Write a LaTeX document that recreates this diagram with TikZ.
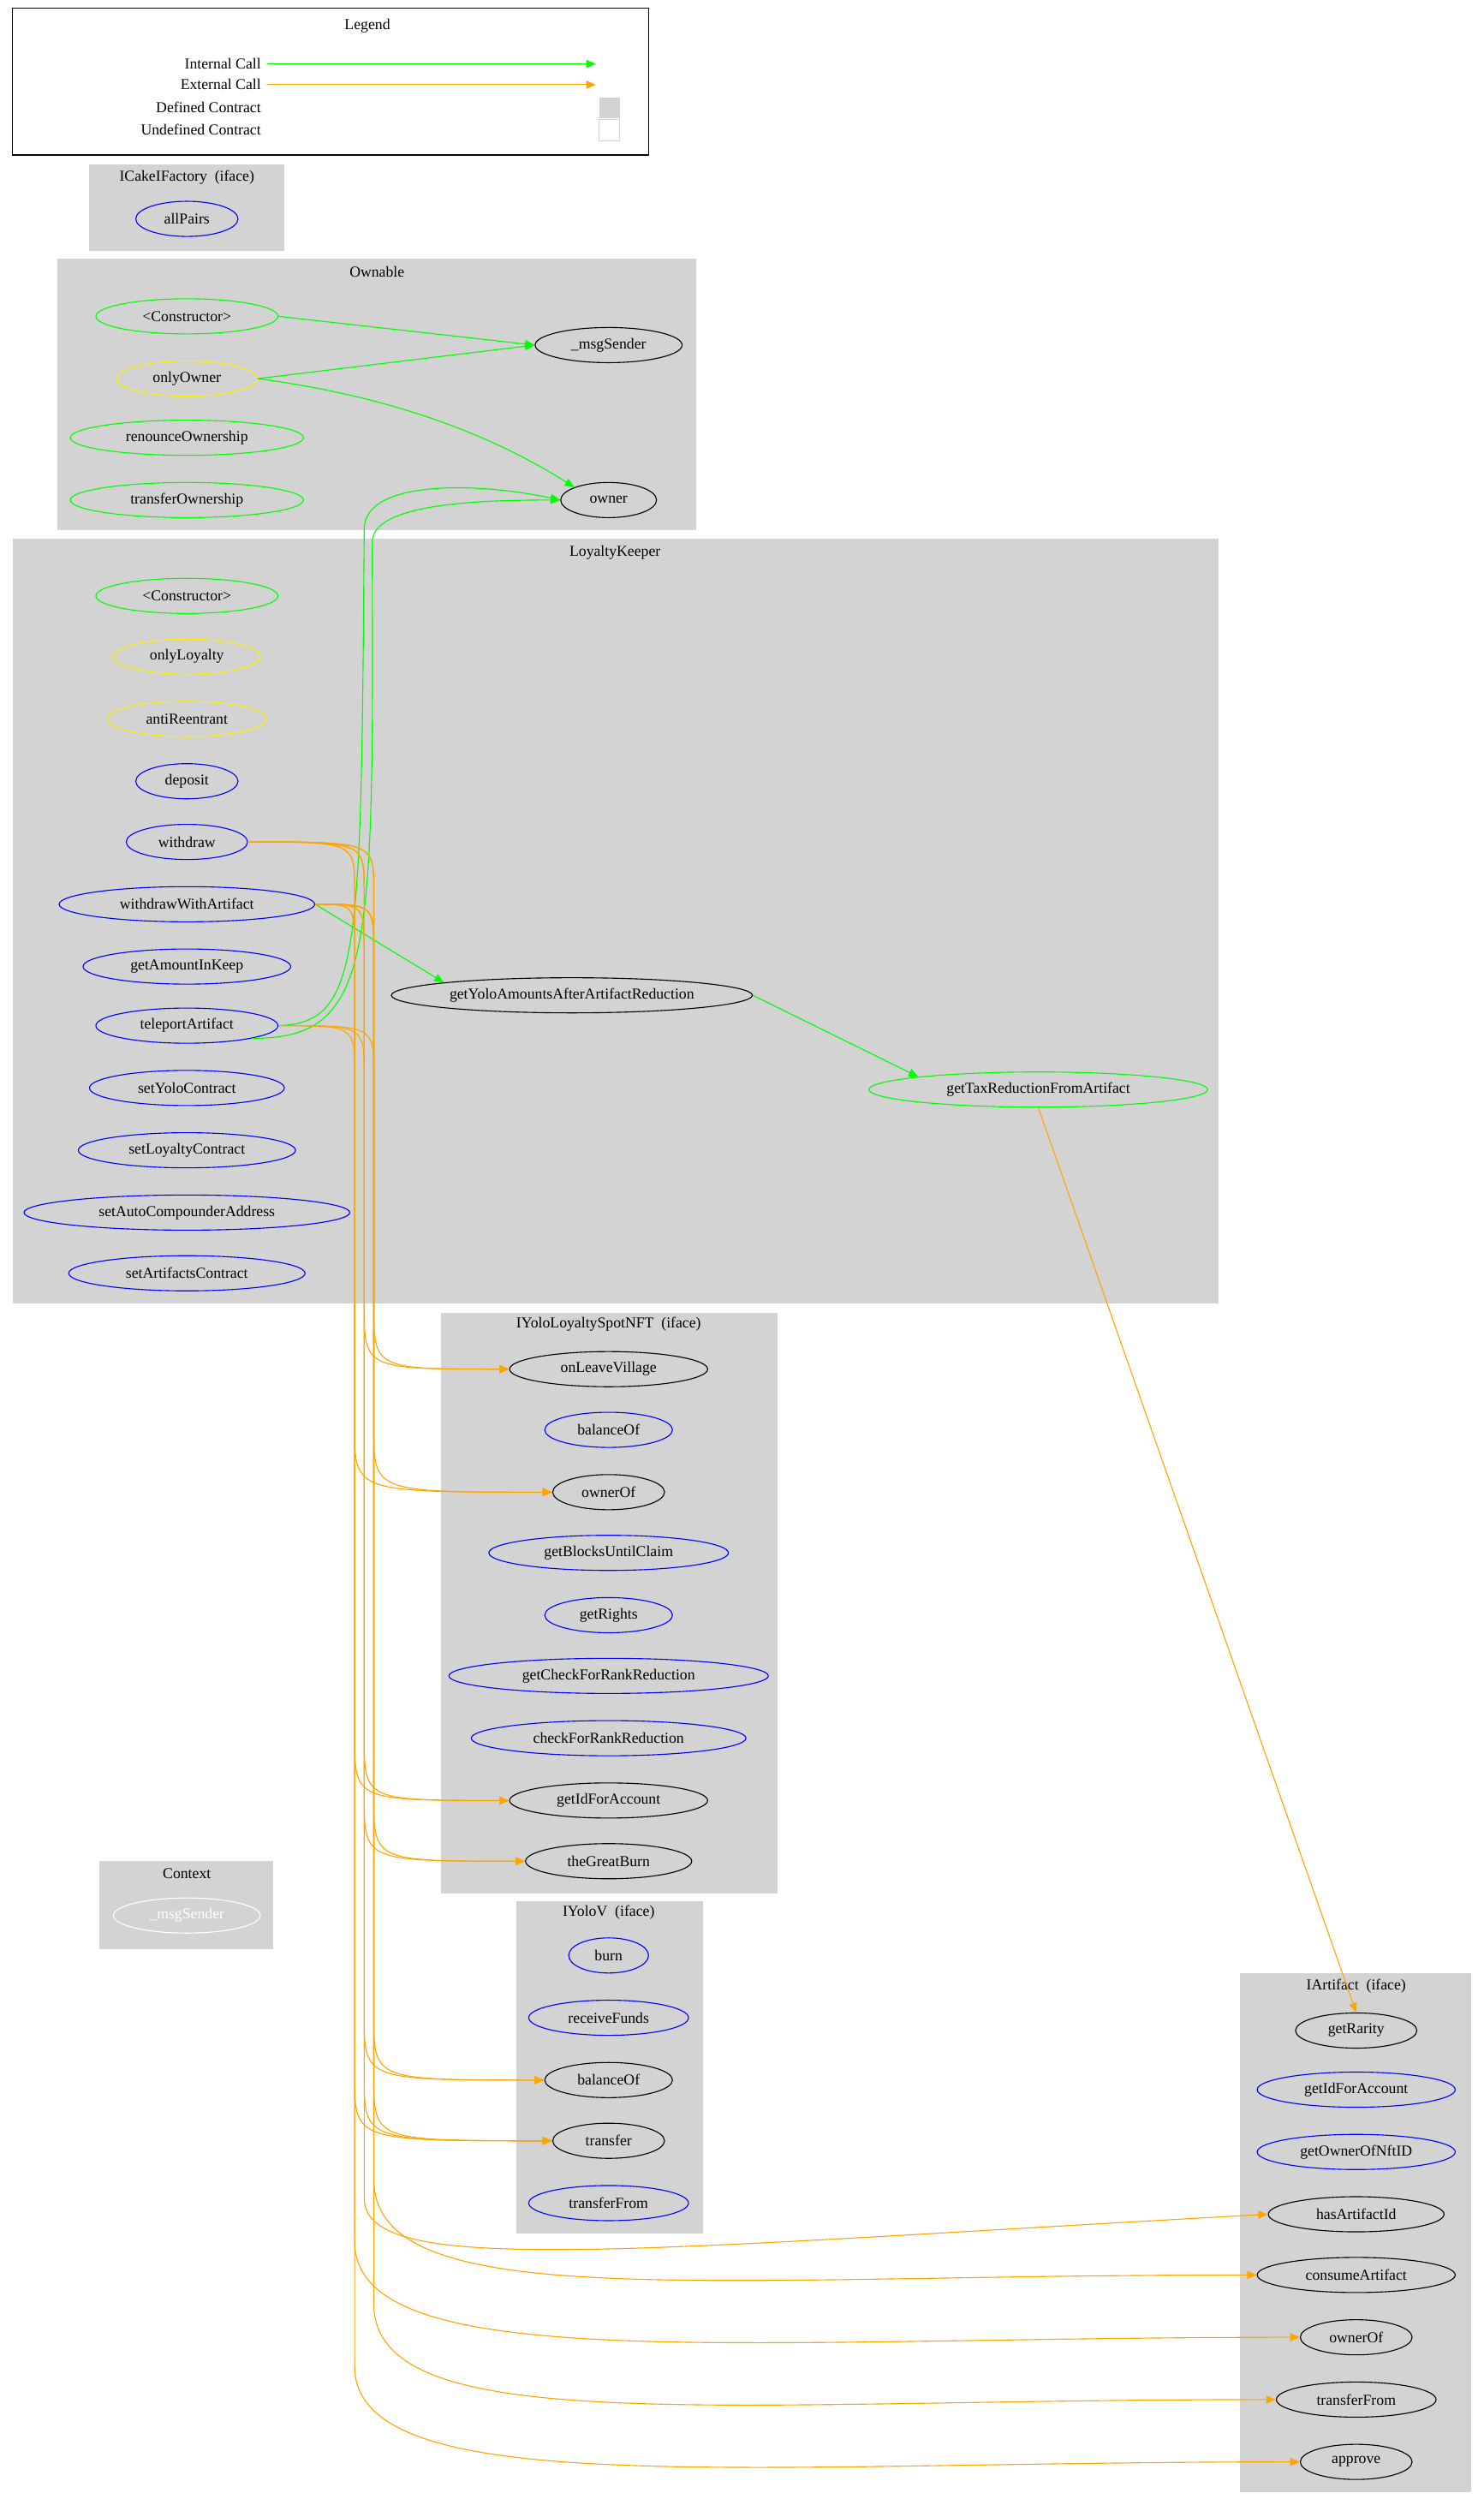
\documentclass[tikz,border=0pt]{standalone}
\usepackage{fontspec}
\setmainfont{Liberation Serif}
\usetikzlibrary{shapes.geometric,arrows.meta}
\definecolor{ora}{HTML}{FFA500}
\definecolor{clg}{HTML}{D3D3D3}
\definecolor{grn}{HTML}{00FF00}
\begin{document}
\begin{tikzpicture}[x=1pt,y=-1pt,font=\fontsize{9.5}{11}\selectfont,line width=0.6pt,
 fn/.style={ellipse,draw,minimum height=22pt,inner xsep=1pt,inner ysep=0pt},
 bl/.style={fn,draw=blue},gr/.style={fn,draw=grn},ye/.style={fn,draw=yellow},bk/.style={fn,draw=black},wh/.style={fn,draw=white,text=white},
 clu/.style={fill=clg,draw=none},
 ig/.style={draw=grn,-{Triangle[length=6pt,width=5pt]}},
 ex/.style={draw=ora,-{Triangle[length=6pt,width=5pt]}}]
\useasboundingbox (0,0) rectangle (929,1568);
\fill[white] (0,0) rectangle (929,1568);
% legend
\draw (8,5) rectangle (406,97);
\node (lt) at (230,16) {Legend};
\node[anchor=east] (l1) at (167,40) {Internal Call};
\node[anchor=east] (l2) at (167,53) {External Call};
\node[anchor=east] (l3) at (167,67) {Defined Contract};
\node[anchor=east] (l4) at (167,81) {Undefined Contract};
\coordinate (e1) at (373,40); \coordinate (e2) at (373,53);
\draw[ig] (l1.east) -- (e1);
\draw[ex] (l2.east) -- (e2);
\fill[clg] (375,61) rectangle (388,74);
\draw[clg] (375,75) rectangle (388,88);
% clusters
\fill[clu] (56,103) rectangle (178,157);
\fill[clu] (36,162) rectangle (436,332);
\fill[clu] (8,337) rectangle (763,816);
\fill[clu] (276,822) rectangle (487,1185);
\fill[clu] (62,1165) rectangle (171,1220);
\fill[clu] (323,1190) rectangle (440,1398);
\fill[clu] (776,1235) rectangle (921,1560);
\node (t1) at (117,111) {ICakeIFactory\ \ (iface)};
\node (t2) at (236,170) {Ownable};
\node (t3) at (385,346) {LoyaltyKeeper};
\node (t4) at (381,829) {IYoloLoyaltySpotNFT\ \ (iface)};
\node (t5) at (117,1173) {Context};
\node (t6) at (381,1197) {IYoloV\ \ (iface)};
\node (t7) at (849,1243) {IArtifact\ \ (iface)};
% nodes
\node[bl,minimum width=64pt] (allPairs) at (117,137) {allPairs};
\node[gr,minimum width=114pt] (oc) at (117,198) {<Constructor>};
\node[ye,minimum width=88pt] (onlyOwner) at (117,237) {onlyOwner};
\node[gr,minimum width=146pt] (ro) at (117,274) {renounceOwnership};
\node[gr,minimum width=146pt] (to) at (117,313) {transferOwnership};
\node[bk,minimum width=92pt] (ms) at (381,216) {\_msgSender};
\node[bk,minimum width=60pt] (owner) at (381,313) {owner};
\node[gr,minimum width=114pt] (lc) at (117,373) {<Constructor>};
\node[ye,minimum width=92pt] (ol) at (117,411) {onlyLoyalty};
\node[ye,minimum width=100pt] (ar) at (117,450) {antiReentrant};
\node[bl,minimum width=64pt] (dep) at (117,489) {deposit};
\node[bl,minimum width=76pt] (wd) at (117,527) {withdraw};
\node[bl,minimum width=160pt] (wwa) at (117,566) {withdrawWithArtifact};
\node[bl,minimum width=130pt] (gaik) at (117,605) {getAmountInKeep};
\node[bl,minimum width=114pt] (tp) at (117,642) {teleportArtifact};
\node[bl,minimum width=122pt] (syc) at (117,681) {setYoloContract};
\node[bl,minimum width=136pt] (slc) at (117,720) {setLoyaltyContract};
\node[bl,minimum width=204pt] (sac) at (117,759) {setAutoCompounderAddress};
\node[bl,minimum width=148pt] (sarc) at (117,797) {setArtifactsContract};
\node[bk,minimum width=226pt] (gya) at (358,623) {getYoloAmountsAfterArtifactReduction};
\node[gr,minimum width=212pt] (gtr) at (650,682) {getTaxReductionFromArtifact};
% IYoloLoyaltySpotNFT
\node[bk,minimum width=124pt] (olv) at (381,857) {onLeaveVillage};
\node[bl,minimum width=80pt] (nb) at (381,895) {balanceOf};
\node[bk,minimum width=70pt] (nown) at (381,934) {ownerOf};
\node[bl,minimum width=150pt] (gbc) at (381,972) {getBlocksUntilClaim};
\node[bl,minimum width=80pt] (grt) at (381,1011) {getRights};
\node[bl,minimum width=200pt] (gcr) at (381,1049) {getCheckForRankReduction};
\node[bl,minimum width=172pt] (ccr) at (381,1088) {checkForRankReduction};
\node[bk,minimum width=124pt] (gia) at (381,1127) {getIdForAccount};
\node[bk,minimum width=104pt] (tgb) at (381,1165) {theGreatBurn};
\node[wh,minimum width=92pt] (cms) at (117,1199) {\_msgSender};
% IYoloV
\node[bl,minimum width=50pt] (burn) at (381,1224) {burn};
\node[bl,minimum width=100pt] (rf) at (381,1263) {receiveFunds};
\node[bk,minimum width=80pt] (vb) at (381,1302) {balanceOf};
\node[bk,minimum width=70pt] (vt) at (381,1340) {transfer};
\node[bl,minimum width=100pt] (vtf) at (381,1379) {transferFrom};
% IArtifact
\node[bk,minimum width=76pt] (grar) at (849,1271) {getRarity};
\node[bl,minimum width=124pt] (aid) at (849,1308) {getIdForAccount};
\node[bl,minimum width=124pt] (aon) at (849,1347) {getOwnerOfNftID};
\node[bk,minimum width=110pt] (hai) at (849,1386) {hasArtifactId};
\node[bk,minimum width=124pt] (ca) at (849,1424) {consumeArtifact};
\node[bk,minimum width=70pt] (aow) at (849,1463) {ownerOf};
\node[bk,minimum width=100pt] (atf) at (849,1502) {transferFrom};
\node[bk,minimum width=70pt] (aap) at (849,1541) {approve};
% internal edges
\draw[ig] (oc.east) -- (ms.west);
\draw[ig] (onlyOwner.east) -- (ms.west);
\draw[ig] (onlyOwner.east) .. controls (260,250) and (320,280) .. (owner.north west);
\draw[ig] (tp.east) .. controls (226,640) and (226,600) .. (228,330) .. controls (230,300) and (300,302) .. (owner.west);
\draw[ig] (tp.south east) .. controls (234,650) and (234,600) .. (233,340) .. controls (232,315) and (300,313) .. (owner.west);
\draw[ig] (wwa.east) -- (gya.north west);
\draw[ig] (gya.east) -- (gtr.north west);
% external
\draw[ex] (gtr.south) -- (grar.north);
\coordinate (v1) at (228,0);\coordinate (v2) at (234,0);\coordinate (v3) at (222,0);
\foreach \s/\t/\v in {wd/olv/v1,wd/nown/v2,wd/gia/v3,wd/tgb/v1,wwa/olv/v2,wwa/gia/v1,wwa/tgb/v2,tp/nown/v3,wd/vb/v1,wd/vt/v2,wwa/vt/v3,wwa/vb/v2,tp/vt/v1}
  \draw[ex] (\s.east) .. controls (\v |- \s.east) and (\v |- \s.east) .. ([yshift=-30]\v |- \s.east) -- ([yshift=40]\v |- \t.west) .. controls (\v |- \t.west) and (\v |- \t.west) .. (\t.west);
\draw[ex] (wwa.east) .. controls (v1 |- wwa.east) and (v1 |- wwa.east) .. ([yshift=-30]v1 |- wwa.east) -- ([yshift=10]v1 |- hai.west) .. controls ([yshift=-40]v1 |- hai.west) and ([xshift=-400,yshift=-22]hai.west) .. (hai.west);
\foreach \s/\t/\v in {wwa/ca/v2,wd/aow/v3,tp/atf/v2,wwa/aap/v3}
  \draw[ex] (\s.east) .. controls (\v |- \s.east) and (\v |- \s.east) .. ([yshift=-30]\v |- \s.east) -- ([yshift=60]\v |- \t.west) .. controls ([yshift=-25]\v |- \t.west) and ([xshift=-350]\t.west) .. (\t.west);
\end{tikzpicture}
\end{document}
